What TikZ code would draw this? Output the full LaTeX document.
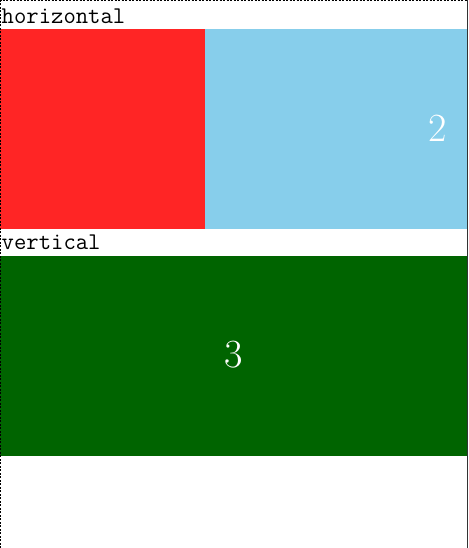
\documentclass[tikz,border=0pt]{standalone}
\definecolor{boxred}{HTML}{FF2525}
\definecolor{boxblue}{HTML}{87CEEB}
\definecolor{boxgreen}{HTML}{006400}
\definecolor{edgegray}{HTML}{333333}
\tikzset{
  label text/.style={anchor=base west, inner sep=0pt, font=\fontsize{24}{26}\selectfont\ttfamily, text=black},
  num text/.style={inner sep=0pt, font=\fontsize{40}{44}\selectfont, text=white},
  frame dash/.style={line width=1pt, dash pattern=on 2pt off 1.5pt, draw=black},
}
\begin{document}
\begin{tikzpicture}[x=1pt,y=-1pt]
\useasboundingbox (0,0) rectangle (468,548);
\fill[white] (0,0) rectangle (468,548);
% horizontal group
\node[label text] (hlabel) at (1.5,24) {horizontal};
\fill[boxred] (0,29) rectangle (205,229);
\fill[boxblue] (205,29) rectangle (468,229);
\node[num text] (two) at (437.5,128.5) {2};
% vertical group
\node[label text] (vlabel) at (1.5,249.5) {vertical};
\fill[boxgreen] (0,256) rectangle (468,456);
\node[num text] (three) at (233.5,355) {3};
% frame
\draw[frame dash] (0.5,548) -- (0.5,0.5) -- (468,0.5);
\draw[edgegray, line width=1.2pt] (467.4,0) -- (467.4,548);
\end{tikzpicture}
\end{document}
